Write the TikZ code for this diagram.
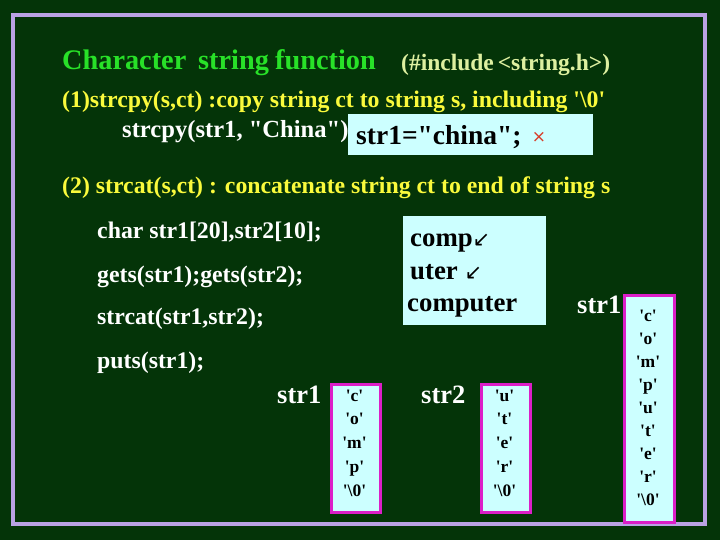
\documentclass[tikz,border=0pt]{standalone}
\usepackage{fontspec}
\setmainfont{Liberation Serif}[Ligatures=TeXOff]
\newfontfamily\symfont{DejaVu Sans}
\definecolor{bgc}{RGB}{4,52,8}
\definecolor{framec}{RGB}{186,162,228}
\definecolor{titlec}{RGB}{40,225,40}
\definecolor{incc}{RGB}{222,240,160}
\definecolor{yelc}{RGB}{250,250,60}
\definecolor{cyanc}{RGB}{204,255,255}
\definecolor{magc}{RGB}{220,30,200}
\definecolor{redc}{RGB}{215,60,40}
\newcommand{\fsz}[1]{\fontsize{#1}{#1}\selectfont\bfseries}
\newcommand{\arrfont}{\symfont\fontsize{21}{21}\selectfont\mdseries}
\tikzset{
  txt/.style={anchor=base west,inner sep=0pt,font=\fsz{23.8}},
  cell/.style={anchor=base,inner sep=0pt,font=\fsz{17.5},text=black},
  cbox/.style={fill=cyanc,draw=none},
  mbox/.style={fill=cyanc,draw=magc,line width=3pt},
  lbl/.style={anchor=base west,inner sep=0pt,font=\fsz{26.5},text=white}
}
\begin{document}
\begin{tikzpicture}[x=1pt,y=-1pt]
\useasboundingbox (0,0) rectangle (720,540);
\fill[bgc] (0,0) rectangle (720,540);
\draw[framec,line width=4pt] (13,15) rectangle (705,524);
% title
\node[txt,font=\fsz{28.3},text=titlec] (t1) at (62,70) {Character};
\node[txt,font=\fsz{28.3},text=titlec] (t2) at (198,70) {string};
\node[txt,font=\fsz{28.3},text=titlec] (t3) at (275,70) {function};
\node[txt,font=\fsz{23.5},text=incc] (inc) at (401,71) {(\#include\,<string.h>)};
% part 1
\node[txt,text=yelc] (l1) at (62,108) {(1)strcpy(s,ct) :copy string ct to string s, including '\textbackslash0'};
\node[txt,font=\fsz{24.6},text=white] (cp) at (122,138) {strcpy(str1, "China")};
\node[cbox,minimum width=245pt,minimum height=41pt,anchor=north west] (box1) at (348,114) {};
\node[txt,font=\fsz{27.5},text=black] (ch) at (356,145) {str1="china";};
\node[inner sep=0pt,font=\symfont\fontsize{17}{17}\selectfont,text=redc] (x) at (539,137) {×};
% part 2
\node[txt,text=yelc] (l2) at (62,194) {(2) strcat(s,ct) : concatenate string ct to end of string s};
\node[txt,text=white] (c1) at (97,238) {char str1[20],str2[10];};
\node[txt,text=white] (c2) at (97,282) {gets(str1);gets(str2);};
\node[txt,text=white] (c3) at (97,324) {strcat(str1,str2);};
\node[txt,text=white] (c4) at (97,368) {puts(str1);};
% input box
\node[cbox,minimum width=143pt,minimum height=109pt,anchor=north west] (box2) at (403,216) {};
\node[txt,font=\fsz{26.8},text=black] (i1) at (410,246) {comp{\arrfont ↙}};
\node[txt,font=\fsz{26.8},text=black] (i2) at (410,279) {uter {\arrfont ↙}};
\node[txt,font=\fsz{26.8},text=black] (i3) at (407,311) {computer};
% right column
\node[lbl] (s1r) at (577,313) {str1};
\node[mbox,minimum width=50pt,minimum height=227pt,anchor=north west] (colr) at (623,294) {};
\foreach \ch [count=\k from 0] in {c,o,m,p,u,t,e,r,\textbackslash0}
  \node[cell] (r\k) at (648,{321+23.1*\k}) {'\ch'};
% lower columns
\node[lbl] (s1) at (277,403) {str1};
\node[mbox,minimum width=49pt,minimum height=128pt,anchor=north west] (col1) at (330,383) {};
\foreach \ch [count=\k from 0] in {c,o,m,p,\textbackslash0}
  \node[cell] (a\k) at (354.5,{401+23.8*\k}) {'\ch'};
\node[lbl] (s2) at (421,403) {str2};
\node[mbox,minimum width=49pt,minimum height=128pt,anchor=north west] (col2) at (480,383) {};
\foreach \ch [count=\k from 0] in {u,t,e,r,\textbackslash0}
  \node[cell] (b\k) at (504.5,{401+23.8*\k}) {'\ch'};
\end{tikzpicture}
\end{document}
